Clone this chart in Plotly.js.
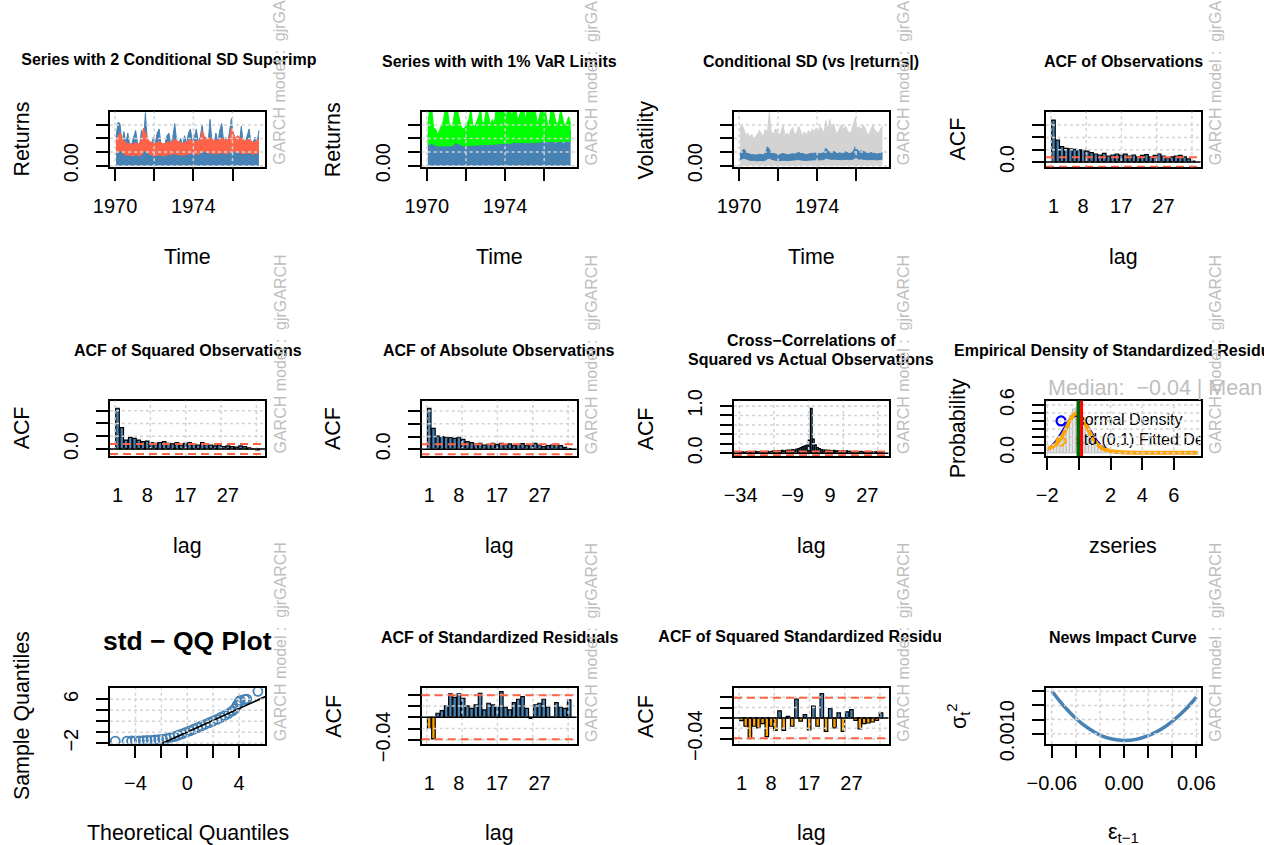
<!DOCTYPE html>
<html>
<head>
<meta charset="utf-8">
<script src="https://cdn.plot.ly/plotly-3.0.1.min.js"></script>
<style>
  html, body { margin: 0; padding: 0; background: #ffffff; }
  #chart { width: 1264px; height: 845px; }
</style>
</head>
<body>
<div id="chart"></div>
<script>
// ---------------------------------------------------------------
// gjrGARCH fit diagnostics (12 panels)
// ---------------------------------------------------------------

// Time series panels: one value per 0.1-year sub-period, 1970.0 - 1977.4
const periodStart = 1970.0;
const periodStep = 0.1;

// largest observation in each sub-period
const returnsMax = [
  0.021,0.032,0.031,0.017,0.025,0.016,0.024,0.015,0.016,0.021,
  0.026,0.016,0.015,0.026,0.016,0.039,0.017,0.016,0.015,0.021,
  0.016,0.024,0.027,0.015,0.016,0.016,0.022,0.024,0.015,0.021,
  0.031,0.017,0.016,0.020,0.015,0.022,0.016,0.024,0.027,0.017,
  0.021,0.027,0.017,0.021,0.030,0.017,0.021,0.016,0.034,0.018,
  0.016,0.024,0.017,0.026,0.031,0.017,0.021,0.016,0.027,0.035,
  0.018,0.016,0.022,0.017,0.029,0.016,0.017,0.022,0.027,0.016,
  0.017,0.021,0.016,0.026
];

// largest absolute observation in each sub-period
const absReturnsMax = [
  0.028,0.030,0.027,0.022,0.024,0.021,0.023,0.020,0.021,0.024,
  0.026,0.023,0.022,0.027,0.024,0.039,0.025,0.023,0.027,0.026,
  0.022,0.025,0.030,0.022,0.024,0.022,0.026,0.028,0.023,0.024,
  0.029,0.026,0.022,0.025,0.022,0.026,0.024,0.027,0.025,0.028,
  0.024,0.029,0.026,0.024,0.033,0.026,0.034,0.027,0.031,0.025,
  0.024,0.028,0.030,0.027,0.029,0.026,0.024,0.025,0.030,0.035,
  0.027,0.029,0.026,0.030,0.028,0.024,0.023,0.027,0.030,0.026,
  0.025,0.024,0.027,0.029
];

// conditional SD: lowest / highest value in each sub-period
const sigmaLo = [
  0.0045,0.0050,0.0055,0.0050,0.0042,0.0040,0.0038,0.0040,0.0036,0.0038,
  0.0040,0.0038,0.0036,0.0040,0.0050,0.0055,0.0048,0.0042,0.0040,0.0038,
  0.0036,0.0038,0.0040,0.0038,0.0036,0.0038,0.0040,0.0042,0.0040,0.0042,
  0.0045,0.0042,0.0040,0.0040,0.0038,0.0040,0.0042,0.0044,0.0045,0.0044,
  0.0042,0.0044,0.0042,0.0045,0.0055,0.0052,0.0048,0.0046,0.0048,0.0046,
  0.0044,0.0046,0.0044,0.0046,0.0048,0.0046,0.0044,0.0045,0.0048,0.0058,
  0.0052,0.0048,0.0050,0.0050,0.0046,0.0044,0.0044,0.0046,0.0048,0.0045,
  0.0042,0.0044,0.0046,0.0048
];
const sigmaHi = [
  0.0095,0.0110,0.0122,0.0105,0.0090,0.0085,0.0080,0.0082,0.0078,0.0080,
  0.0085,0.0082,0.0080,0.0095,0.0139,0.0120,0.0100,0.0090,0.0085,0.0082,
  0.0080,0.0085,0.0090,0.0085,0.0080,0.0082,0.0085,0.0088,0.0085,0.0090,
  0.0097,0.0092,0.0088,0.0085,0.0082,0.0085,0.0088,0.0090,0.0095,0.0092,
  0.0088,0.0092,0.0090,0.0095,0.0129,0.0110,0.0098,0.0095,0.0105,0.0098,
  0.0092,0.0095,0.0090,0.0098,0.0102,0.0097,0.0092,0.0095,0.0105,0.0139,
  0.0115,0.0100,0.0110,0.0105,0.0098,0.0092,0.0090,0.0095,0.0098,0.0092,
  0.0085,0.0088,0.0092,0.0095
];

// upper 1% VaR limit: lowest / highest value in each sub-period
const varLo = [
  0.0150,0.0160,0.0165,0.0155,0.0148,0.0145,0.0145,0.0146,0.0144,0.0145,
  0.0148,0.0146,0.0145,0.0150,0.0170,0.0165,0.0155,0.0150,0.0148,0.0147,
  0.0146,0.0148,0.0150,0.0150,0.0148,0.0150,0.0152,0.0155,0.0152,0.0155,
  0.0158,0.0156,0.0155,0.0156,0.0155,0.0158,0.0160,0.0162,0.0165,0.0164,
  0.0162,0.0165,0.0164,0.0166,0.0175,0.0172,0.0168,0.0168,0.0172,0.0170,
  0.0168,0.0170,0.0168,0.0172,0.0175,0.0173,0.0170,0.0172,0.0176,0.0185,
  0.0180,0.0176,0.0178,0.0180,0.0178,0.0176,0.0176,0.0178,0.0180,0.0178,
  0.0176,0.0178,0.0180,0.0182
];
const varHi = [
  0.030,0.042,0.042,0.028,0.027,0.023,0.026,0.030,0.033,0.042,
  0.042,0.031,0.028,0.032,0.042,0.042,0.036,0.029,0.027,0.028,
  0.031,0.034,0.042,0.030,0.029,0.032,0.036,0.042,0.030,0.033,
  0.042,0.037,0.030,0.034,0.031,0.042,0.038,0.042,0.042,0.042,
  0.035,0.042,0.042,0.036,0.042,0.042,0.033,0.039,0.042,0.042,
  0.034,0.042,0.038,0.042,0.042,0.040,0.031,0.036,0.042,0.042,
  0.042,0.032,0.030,0.042,0.042,0.035,0.030,0.033,0.042,0.034,
  0.029,0.032,0.036,0.031
];

// autocorrelations, lags 1..34
const acfObs = [0.341,0.179,0.125,0.111,0.106,0.103,0.098,0.098,0.089,0.076,
  0.065,0.057,0.070,0.049,0.057,0.065,0.057,0.065,0.049,0.057,
  0.041,0.054,0.060,0.041,0.054,0.065,0.049,0.033,0.041,0.049,
  0.054,0.041,0.025,0.008];
const acfSq = [0.319,0.167,0.070,0.091,0.083,0.070,0.057,0.062,0.050,0.044,
  0.050,0.057,0.044,0.040,0.050,0.031,0.044,0.050,0.040,0.031,
  0.050,0.040,0.031,0.024,0.031,0.018,0.024,0.018,0.015,0.024,
  0.018,0.008,0.000,-0.008];
const acfAbs = [0.320,0.164,0.104,0.099,0.094,0.091,0.086,0.094,0.078,0.060,
  0.052,0.042,0.047,0.034,0.039,0.047,0.039,0.047,0.034,0.042,
  0.029,0.039,0.044,0.029,0.039,0.047,0.034,0.021,0.029,0.034,
  0.039,0.029,0.016,0.005];
const acfStdRes = [-0.0195,-0.0383,0.0071,0.0118,0.0200,0.0413,0.0354,0.0413,0.0336,0.0200,
  0.0159,0.0218,0.0425,0.0130,0.0248,0.0218,0.0177,0.0454,0.0177,0.0130,
  0.0260,0.0319,0.0366,0.0159,-0.0018,0.0218,0.0248,0.0319,0.0177,0.0006,
  0.0260,0.0177,0.0159,0.0307];
const acfSqStdRes = [-0.005,-0.016,-0.040,-0.016,-0.019,-0.011,-0.036,-0.016,-0.024,0.0136,
  -0.024,0.003,-0.016,0.036,-0.006,0.0065,-0.023,0.023,-0.016,0.047,
  -0.026,0.018,-0.019,0.0097,-0.026,0.0117,0.016,-0.0045,-0.021,-0.011,
  -0.0097,-0.0078,-0.0045,0.0097];
const acfConf = 0.039;
const acfTickLags = [1, 8, 17, 27];

// cross-correlation of squared vs actual observations, lags -34..34
const ccfFirstLag = -34;
const ccfValues = [
  0.02,0.03,0.02,0.03,0.03,0.02,0.03,0.04,0.03,0.03,
  0.04,0.03,0.04,0.04,0.03,0.04,0.05,0.04,0.05,0.05,
  0.06,0.05,0.06,0.07,0.06,0.08,0.07,0.09,0.10,0.12,
  0.14,0.16,0.18,0.28,0.95,0.30,0.18,0.12,0.10,0.08,
  0.07,0.07,0.06,0.06,0.05,0.06,0.05,0.05,0.04,0.05,
  0.04,0.05,0.04,0.04,0.03,0.04,0.04,0.03,0.04,0.03,
  0.03,0.04,0.03,0.03,0.02,0.03,0.03,0.02,0.02
];
const ccfTickLags = [-34, -9, 9, 27];

// empirical density of standardized residuals
const histMid = [-1.9,-1.7,-1.5,-1.3,-1.1,-0.9,-0.7,-0.5,-0.3,-0.1,0.1,0.3,0.5,0.7,0.9,1.1,1.3,1.5,1.7,1.9,2.1,2.3,2.5];
const histDens = [0.07,0.09,0.12,0.17,0.23,0.30,0.38,0.47,0.55,0.57,0.52,0.44,0.36,0.27,0.19,0.13,0.08,0.05,0.03,0.02,0.012,0.008,0.005];
const histBinWidth = 0.2;
const densX = [-2.0,-1.75,-1.5,-1.25,-1.0,-0.75,-0.5,-0.25,0,0.25,0.5,0.75,1.0,1.25,1.5,1.75,2.0,2.5,3.0,4.0,5.0,6.0,7.5];
const normalDens = [0.040,0.080,0.133,0.203,0.284,0.366,0.431,0.466,0.462,0.420,0.350,0.268,0.188,0.121,0.071,0.039,0.019,0.004,0.001,0,0,0,0];
const stdFitDens = [0.05,0.07,0.10,0.15,0.23,0.33,0.43,0.49,0.48,0.42,0.33,0.23,0.15,0.09,0.055,0.035,0.022,0.010,0.005,0.002,0.001,0.0005,0.0002];
const zMedian = -0.04;
const zMean = 0.166;

// QQ plot of standardized residuals against fitted std quantiles
const qqTheoretical = [-5.56,-4.66,-4.3,-4.0,-3.7,-3.4,-3.1,-2.8,-2.5,-2.2,-1.9,-1.6,-1.3,-1.0,-0.7,-0.4,-0.1,0.2,0.5,0.8,1.1,1.4,1.7,2.0,2.3,2.6,2.9,3.2,3.5,3.7,3.85,4.0,4.1,4.45,4.6,5.46];
const qqSample = [-1.62,-1.62,-1.6,-1.58,-1.56,-1.53,-1.5,-1.47,-1.42,-1.36,-1.28,-1.16,-1.0,-0.8,-0.55,-0.3,-0.02,0.25,0.55,0.85,1.15,1.45,1.75,2.05,2.35,2.7,3.05,3.45,3.9,4.3,4.9,5.5,5.8,6.0,6.05,7.46];
const qqLineSlope = 1.07;
const qqLineIntercept = 0.03;

// news impact curve
const nicEps = [-0.06,-0.05,-0.04,-0.03,-0.02,-0.01,0,0.01,0.02,0.03,0.04,0.05,0.06];
const nicSigma2 = [0.00251,0.00198,0.00154,0.00120,0.00095,0.00081,0.00076,0.00080,0.00093,0.00114,0.00144,0.00182,0.00229];

const modelLabel = 'GARCH model :  gjrGARCH';

// ---------------------------------------------------------------
// page geometry (pixels) and styling
// ---------------------------------------------------------------
const W = 1264, H = 845;
const FONT = 'Liberation Sans, Arial, Helvetica, sans-serif';
const STEEL = '#4682B4', TOMATO = '#FF6347', GREEN = '#00FF00', ORANGE = '#FFA500';
const GRID = '#D3D3D3', MTEXT = '#BEBEBE';
const TICK_SIZE = 20, LAB_SIZE = 21.4, MAIN_SIZE = 16.0;
const colPx = [[110, 265], [421.7, 576.7], [734, 888.5], [1046, 1200.5]];
const rowPx = [[111.7, 167.3], [400.7, 456], [688.3, 743.8]];
const fx = v => v / W;
const fy = v => 1 - v / H;
function box(p) {
  const r = rowPx[Math.floor((p - 1) / 4)], c = colPx[(p - 1) % 4];
  return { l: c[0], r: c[1], t: r[0], b: r[1], cx: (c[0] + c[1]) / 2, cy: (r[0] + r[1]) / 2 };
}
const sfx = p => (p === 1 ? '' : String(p));

const traces = [];
const layout = {
  width: W, height: H,
  margin: { l: 0, r: 0, t: 0, b: 0 },
  paper_bgcolor: '#ffffff', plot_bgcolor: 'rgba(0,0,0,0)',
  showlegend: false,
  font: { family: FONT, color: '#000000' },
  shapes: [], annotations: []
};

const axBase = {
  showline: true, mirror: true, linecolor: '#000000', linewidth: 2,
  ticks: 'outside', ticklen: 12, tickwidth: 2, tickcolor: '#000000',
  tickfont: { size: TICK_SIZE, color: '#000000', family: FONT },
  showgrid: false, zeroline: false, fixedrange: true, tickmode: 'array'
};

function axes(p, xr, yr, xt, xl, yt, yl, xopt) {
  const b = box(p), s = sfx(p);
  layout['xaxis' + s] = Object.assign({}, axBase, {
    domain: [fx(b.l), fx(b.r)], range: xr, tickvals: xt, ticktext: xl,
    anchor: 'y' + s, ticklabelstandoff: 8
  }, xopt || {});
  layout['yaxis' + s] = Object.assign({}, axBase, {
    domain: [fy(b.b), fy(b.t)], range: yr, tickvals: yt, ticktext: yl,
    anchor: 'x' + s, tickangle: -90, ticklabelstandoff: 10
  });
}

// dotted grid drawn on top of the data
function grid(p, xs, ys) {
  const s = sfx(p);
  xs.forEach(v => layout.shapes.push({ type: 'line', layer: 'above', xref: 'x' + s, yref: 'y' + s + ' domain',
    x0: v, x1: v, y0: 0, y1: 1, line: { color: GRID, width: 1.5, dash: 'dot' } }));
  ys.forEach(v => layout.shapes.push({ type: 'line', layer: 'above', xref: 'x' + s + ' domain', yref: 'y' + s,
    x0: 0, x1: 1, y0: v, y1: v, line: { color: GRID, width: 1.5, dash: 'dot' } }));
}
function hline(p, v, color, width, dash) {
  const s = sfx(p);
  layout.shapes.push({ type: 'line', layer: 'above', xref: 'x' + s + ' domain', yref: 'y' + s,
    x0: 0, x1: 1, y0: v, y1: v, line: { color, width, dash: dash || 'solid' } });
}
function vline(p, v, color, width) {
  const s = sfx(p);
  layout.shapes.push({ type: 'line', layer: 'above', xref: 'x' + s, yref: 'y' + s + ' domain',
    x0: v, x1: v, y0: 0, y1: 1, line: { color, width } });
}
function note(text, xp, yp, size, opt) {
  layout.annotations.push(Object.assign({
    text, x: fx(xp), y: fy(yp), xref: 'paper', yref: 'paper', showarrow: false,
    xanchor: 'center', yanchor: 'middle', font: { size, color: '#000000', family: FONT }
  }, opt || {}));
}
function labels(p, title, xlab, ylab) {
  const b = box(p);
  if (title) note('<b>' + title + '</b>', b.cx, b.t - 50.5, MAIN_SIZE);
  note(xlab, b.cx, b.b + 89.5, LAB_SIZE);
  note(ylab, b.l - 88, b.cy, LAB_SIZE, { textangle: -90 });
  note(modelLabel, b.r + 15, b.b, 16, { textangle: -90, yanchor: 'bottom', font: { size: 16, color: MTEXT, family: FONT } });
}
// bold title clipped to a horizontal band of the page
let extraAxis = 13;
function clippedTitle(text, cx, cy, clipL, clipR, size) {
  const s = String(extraAxis++);
  layout['xaxis' + s] = { domain: [fx(clipL), fx(clipR)], range: [clipL, clipR], visible: false, fixedrange: true, anchor: 'y' + s };
  layout['yaxis' + s] = { domain: [fy(cy + 16), fy(cy - 16)], range: [-1, 1], visible: false, fixedrange: true, anchor: 'x' + s };
  traces.push({ type: 'scatter', mode: 'text', x: [cx], y: [0], text: ['<b>' + text + '</b>'],
    textposition: 'middle center', textfont: { size, color: '#000000', family: FONT },
    xaxis: 'x' + s, yaxis: 'y' + s, hoverinfo: 'skip', cliponaxis: true });
}
function on(p, t) { t.xaxis = 'x' + sfx(p); t.yaxis = 'y' + sfx(p); t.hoverinfo = 'skip'; traces.push(t); }

const tMid = returnsMax.map((_, i) => periodStart + periodStep * (i + 0.5));
const twoSigLo = sigmaLo.map(v => 2 * v), twoSigHi = sigmaHi.map(v => 2 * v);
const lagsOf = arr => arr.map((_, i) => i + 1);
const minus = v => String(v).replace('-', '\u2212');

// ---------------- row 1 ----------------
const yearTicks = [1970, 1972, 1974, 1976];
const yearText = ['1970', '', '1974', ''];
const retRange = [-0.0012, 0.0397];
const retTicks = [0, 0.01, 0.02, 0.03];
const retText = ['0.00', '', '', ''];
const tRange = [1969.74, 1977.66];

// 1: series with 2 conditional SD
axes(1, tRange, retRange, yearTicks, yearText, retTicks, retText);
on(1, { type: 'scatter', mode: 'lines', x: tMid, y: returnsMax, line: { color: STEEL, width: 1 }, fill: 'tozeroy', fillcolor: STEEL });
on(1, { type: 'scatter', mode: 'lines', x: tMid, y: twoSigLo, line: { color: TOMATO, width: 1 } });
on(1, { type: 'scatter', mode: 'lines', x: tMid, y: twoSigHi, line: { color: TOMATO, width: 1 }, fill: 'tonexty', fillcolor: TOMATO });
grid(1, yearTicks, retTicks);
labels(1, null, 'Time', 'Returns');
clippedTitle('Series with 2 Conditional SD Superimposed', box(1).cx, box(1).t - 50.5, 0, 316.5, MAIN_SIZE);

// 2: series with 1% VaR limits
axes(2, tRange, retRange, yearTicks, yearText, retTicks, retText);
on(2, { type: 'scatter', mode: 'lines', x: tMid, y: returnsMax, line: { color: STEEL, width: 1 }, fill: 'tozeroy', fillcolor: STEEL });
on(2, { type: 'scatter', mode: 'lines', x: tMid, y: varLo, line: { color: GREEN, width: 1 } });
on(2, { type: 'scatter', mode: 'lines', x: tMid, y: varHi, line: { color: GREEN, width: 1 }, fill: 'tonexty', fillcolor: GREEN });
grid(2, yearTicks, retTicks);
labels(2, 'Series with with 1% VaR Limits', 'Time', 'Returns');

// 3: conditional SD vs |returns|
axes(3, tRange, retRange, yearTicks, yearText, retTicks, retText);
on(3, { type: 'scatter', mode: 'lines', x: tMid, y: absReturnsMax, line: { color: GRID, width: 1 }, fill: 'tozeroy', fillcolor: GRID });
on(3, { type: 'scatter', mode: 'lines', x: tMid, y: sigmaLo, line: { color: STEEL, width: 1 } });
on(3, { type: 'scatter', mode: 'lines', x: tMid, y: sigmaHi, line: { color: STEEL, width: 1 }, fill: 'tonexty', fillcolor: STEEL });
grid(3, yearTicks, retTicks);
labels(3, 'Conditional SD (vs |returns|)', 'Time', 'Volatility');

// ACF bar panels
const lagRange = [-0.77, 35.77];
const acfGridLags = [0.417, 8.75, 17.08, 25.42, 33.75];
const hideTicks = { tickcolor: 'rgba(0,0,0,0)' };
function acfPanel(p, vals, yr, yt, yl, title, ylab) {
  axes(p, lagRange, yr, acfTickLags, acfTickLags.map(String), yt, yl, hideTicks);
  on(p, { type: 'bar', x: lagsOf(vals), y: vals, width: 0.833,
    marker: { color: vals.map(v => (v < 0 ? ORANGE : STEEL)), line: { color: '#000000', width: 1.2 } } });
  grid(p, acfGridLags, yt);
  hline(p, acfConf, TOMATO, 2, '8px,5px');
  hline(p, -acfConf, TOMATO, 2, '8px,5px');
  hline(p, 0, '#000000', 1.5);
  labels(p, title, 'lag', ylab);
}

// 4: ACF of observations
acfPanel(4, acfObs, [-0.043, 0.409], [0, 0.1, 0.2, 0.3], ['0.0', '', '', ''], 'ACF of Observations', 'ACF');

// ---------------- row 2 ----------------
acfPanel(5, acfSq, [-0.055, 0.378], [0, 0.1, 0.2, 0.3], ['0.0', '', '', ''], 'ACF of Squared Observations', 'ACF');
acfPanel(6, acfAbs, [-0.052, 0.38], [0, 0.1, 0.2, 0.3], ['0.0', '', '', ''], 'ACF of Absolute Observations', 'ACF');

// 7: cross-correlations
(function () {
  const p = 7;
  const lags = ccfValues.map((_, i) => ccfFirstLag + i);
  const yt = [0, 0.2, 0.4, 0.6, 0.8, 1.0];
  axes(p, [-37.2, 37.2], [-0.057, 1.111], ccfTickLags, ccfTickLags.map(minus), yt, ['0.0', '', '', '', '', '1.0'], hideTicks);
  on(p, { type: 'bar', x: lags, y: ccfValues, width: 0.833, marker: { color: STEEL, line: { color: '#000000', width: 1.2 } } });
  grid(p, [-34.58, -17.92, -1.25, 15.42, 32.08], yt);
  hline(p, acfConf, TOMATO, 2, '8px,5px');
  hline(p, -acfConf, TOMATO, 2, '8px,5px');
  hline(p, 0, '#000000', 1.5);
  const b = box(p);
  note('<b>Cross\u2212Correlations of</b>', b.cx, b.t - 60.7, MAIN_SIZE);
  note('<b>Squared vs Actual Observations</b>', b.cx, b.t - 41.4, MAIN_SIZE);
  labels(p, null, 'lag', 'ACF');
})();

// 8: empirical density
(function () {
  const p = 8;
  const xt = [-2, 0, 2, 4, 6], yt = [0, 0.1, 0.2, 0.3, 0.4, 0.5, 0.6];
  axes(p, [-2.08, 7.68], [-0.04, 0.654], xt, ['\u22122', '', '2', '4', '6'], yt, ['0.0', '', '', '', '', '', '0.6']);
  on(p, { type: 'bar', x: histMid, y: histDens, width: histBinWidth, marker: { color: '#E6E6E6', line: { color: '#BEBEBE', width: 1 } } });
  on(p, { type: 'scatter', mode: 'lines', x: densX, y: normalDens, line: { color: '#0000FF', width: 2.5, shape: 'spline' } });
  on(p, { type: 'scatter', mode: 'lines', x: densX, y: stdFitDens, line: { color: ORANGE, width: 4, shape: 'spline' } });
  grid(p, xt, yt);
  vline(p, zMedian, '#006400', 3.5);
  vline(p, zMean, '#FF0000', 3);
  // legend (top-left of the plot area)
  const legX = -1.13, legTextX = -0.2, legY = [0.40, 0.147];
  on(p, { type: 'scatter', mode: 'markers', x: [legX, legX], y: legY,
    marker: { symbol: 'circle-open', size: 9, color: ['#0000FF', ORANGE], line: { width: 2.2 } } });
  on(p, { type: 'scatter', mode: 'text', x: [legTextX, legTextX], y: legY,
    text: ['normal Density', 'std (0,1) Fitted Density'], textposition: 'middle right',
    textfont: { size: 16, color: '#000000', family: FONT }, cliponaxis: true });
  const b = box(p);
  note('Median:  ' + minus(zMedian) + ' | Mean:  ' + minus(zMean), b.l, b.t + 1, 21.5,
    { xanchor: 'left', yanchor: 'bottom', font: { size: 21.5, color: MTEXT, family: FONT } });
  labels(p, 'Empirical Density of Standardized Residuals', 'zseries', 'Probability');
})();

// ---------------- row 3 ----------------
// 9: QQ plot
(function () {
  const p = 9;
  const xt = [-4, -2, 0, 2, 4], yt = [-2, 0, 2, 4, 6];
  const xr = [-5.97, 6.01];
  axes(p, xr, [-2.11, 8.01], xt, ['\u22124', '', '0', '', '4'], yt, ['\u22122', '', '', '', '6']);
  on(p, { type: 'scatter', mode: 'markers', x: qqTheoretical, y: qqSample,
    marker: { symbol: 'circle-open', size: 9, color: STEEL, line: { width: 1.8 } } });
  const lx = [xr[0] - 1, xr[1] + 1];
  on(p, { type: 'scatter', mode: 'lines', x: lx, y: lx.map(v => qqLineIntercept + qqLineSlope * v), line: { color: '#000000', width: 1.8 } });
  grid(p, xt, yt);
  const b = box(p);
  note('<b>std \u2212 QQ Plot</b>', b.cx, b.t - 47.6, 26.5);
  labels(p, null, 'Theoretical Quantiles', 'Sample Quantiles');
})();

// 10, 11: ACF of standardized residuals
const resTicks = [-0.04, -0.02, 0, 0.02, 0.04];
const resText = ['\u22120.04', '', '', '', ''];
acfPanel(10, acfStdRes, [-0.047, 0.0513], resTicks, resText, 'ACF of Standardized Residuals', 'ACF');
acfPanel(11, acfSqStdRes, [-0.0497, 0.057], resTicks, resText, null, 'ACF');
clippedTitle('ACF of Squared Standardized Residuals', box(11).cx, box(11).t - 50.5, 632, 941, MAIN_SIZE);

// 12: news impact curve
(function () {
  const p = 12;
  const xt = [-0.06, -0.04, -0.02, 0, 0.02, 0.04, 0.06];
  const yt = [0.001, 0.0015, 0.002, 0.0025];
  axes(p, [-0.0648, 0.0634], [0.000643, 0.002607], xt, ['\u22120.06', '', '', '0.00', '', '', '0.06'], yt, ['0.0010', '', '', '']);
  on(p, { type: 'scatter', mode: 'lines', x: nicEps, y: nicSigma2, line: { color: STEEL, width: 3.5, shape: 'spline' } });
  grid(p, xt, yt);
  labels(p, 'News Impact Curve', '\u03b5<sub>t\u22121</sub>', '\u03c3<sub>t</sub><sup>2</sup>');
})();

Plotly.newPlot('chart', traces, layout, { staticPlot: true, displayModeBar: false });
</script>
</body>
</html>
